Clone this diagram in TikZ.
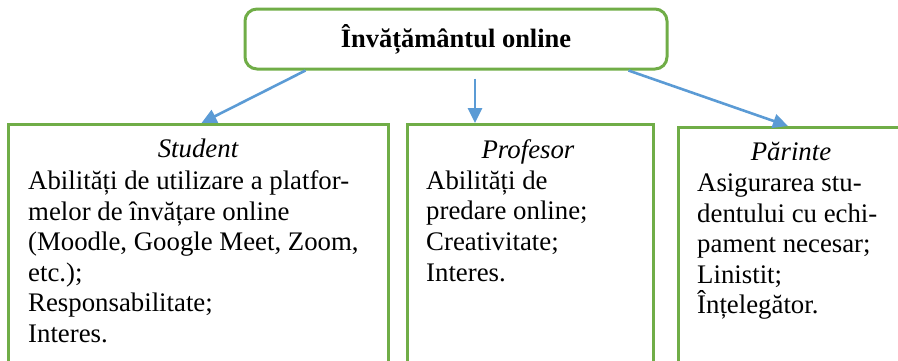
\documentclass[tikz,border=0pt]{standalone}
\usepackage{fontspec}
\setmainfont{Liberation Serif}
\usetikzlibrary{arrows.meta}
\definecolor{boxgreen}{HTML}{70AD47}
\definecolor{arrblue}{HTML}{5B9BD5}
\begin{document}
\begin{tikzpicture}[x=1pt,y=-1pt,
  topbox/.style={draw=boxgreen,line width=3pt,rounded corners=12pt,minimum width=422pt,minimum height=60pt,inner sep=0pt,
    font=\fontsize{26.5}{30}\selectfont\bfseries},
  catbox/.style={draw=boxgreen,line width=3pt,anchor=north west,minimum height=260pt,inner sep=0pt},
  head/.style={anchor=base,inner sep=0pt,font=\fontsize{26.8}{30.6}\selectfont\itshape},
  body/.style={anchor=north west,inner sep=0pt,align=left,font=\fontsize{26.8}{30.6}\selectfont},
  arr/.style={draw=arrblue,line width=2.6pt,-{Triangle[length=15pt,width=14pt]}}]
\useasboundingbox (0,0) rectangle (898,360);
\clip (0,0) rectangle (898,360);
\node[topbox] (top) at (456,39) {Învățământul online};
\node[catbox,minimum width=380pt] (student) at (7,123) {};
\node[catbox,minimum width=246pt] (profesor) at (406,123) {};
\node[catbox,minimum width=228pt] (parinte) at (677,126) {};
\node[head] (hs) at (198,157) {Student};
\node[head] (hp) at (528,158) {Profesor};
\node[head] (hr) at (791,160) {Părinte};
\node[body] (bs) at (28,170.5) {Abilități de utilizare a platfor-\\melor de învățare online\\(Moodle, Google Meet, Zoom,\\etc.);\\Responsabilitate;\\Interes.};
\node[body] (bp) at (426,170.5) {Abilități de\\predare online;\\Creativitate;\\Interes.};
\node[body] (br) at (697,173.5) {Asigurarea stu-\\dentului cu echi-\\pament necesar;\\Linistit;\\Înțelegător.};
\draw[arr] ([xshift=62]top.south west) -- ([xshift=3]student.north);
\draw[arr] ([xshift=19,yshift=-8]top.south) -- ([xshift=19]top.south |- profesor.north);
\draw[arr] ([xshift=-40]top.south east) -- ([xshift=111]parinte.north west);
\end{tikzpicture}
\end{document}
